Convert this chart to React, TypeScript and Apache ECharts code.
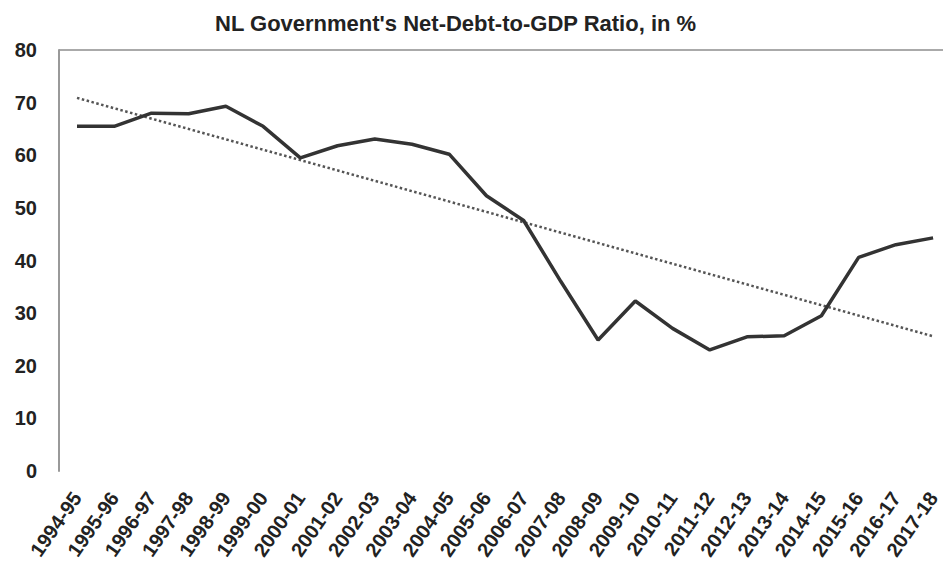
import React, { useEffect, useRef } from "react";
import * as echarts from "echarts";

const titleText = "NL Government's Net-Debt-to-GDP Ratio, in %";
const categories = [
  "1994-95", "1995-96", "1996-97", "1997-98", "1998-99", "1999-00",
  "2000-01", "2001-02", "2002-03", "2003-04", "2004-05", "2005-06",
  "2006-07", "2007-08", "2008-09", "2009-10", "2010-11", "2011-12",
  "2012-13", "2013-14", "2014-15", "2015-16", "2016-17", "2017-18",
];
const debtRatio = [
  65.5, 65.5, 68.0, 67.9, 69.3, 65.5, 59.5, 61.8, 63.1, 62.1, 60.2, 52.3,
  47.6, 36.0, 24.9, 32.3, 27.1, 23.0, 25.5, 25.7, 29.5, 40.6, 43.0, 44.3,
];
// Linear trend line: start and end values
const trendStart = 70.9;
const trendEnd = 25.6;
const yTicks = { min: 0, max: 80, interval: 10 };

export default function App() {
  const ref = useRef<HTMLDivElement>(null);
  useEffect(() => {
    if (!ref.current) return;
    const chart = echarts.init(ref.current, undefined, { renderer: "svg" });
    const trend: (number | null)[] = categories.map((_, i) =>
      i === 0 ? trendStart : i === categories.length - 1 ? trendEnd : null
    );
    const font = "'Liberation Sans', Arial, sans-serif";
    chart.setOption({
      animation: false,
      backgroundColor: "#ffffff",
      title: {
        text: titleText,
        left: 215,
        top: 12,
        padding: 0,
        textStyle: { fontFamily: font, fontSize: 22, fontWeight: "bold", color: "#222" },
      },
      graphic: [
        {
          type: "line",
          shape: { x1: 59, y1: 50, x2: 943, y2: 50 },
          style: { stroke: "#aaa", lineWidth: 2 },
        },
      ],
      grid: { left: 77, top: 50, bottom: 102, right: 9 },
      xAxis: {
        type: "category",
        data: categories,
        boundaryGap: false,
        axisLine: { show: false },
        axisTick: { show: false },
        axisLabel: {
          interval: 0,
          rotate: 55,
          margin: 23,
          fontFamily: font,
          fontSize: 20,
          fontWeight: "bold",
          color: "#222",
        },
      },
      yAxis: {
        type: "value",
        min: yTicks.min,
        max: yTicks.max,
        interval: yTicks.interval,
        offset: 18,
        axisLine: { show: true, lineStyle: { color: "#999", width: 2 } },
        axisTick: { show: false },
        splitLine: { show: false },
        axisLabel: {
          margin: 22,
          fontFamily: font,
          fontSize: 20,
          fontWeight: "bold",
          color: "#222",
        },
      },
      series: [
        {
          type: "line",
          data: trend,
          connectNulls: true,
          symbol: "none",
          lineStyle: { type: "dotted", width: 2.5, color: "#555" },
          z: 1,
        },
        {
          type: "line",
          data: debtRatio,
          symbol: "none",
          lineStyle: { width: 3.5, color: "#333" },
          z: 2,
        },
      ],
    });
    return () => chart.dispose();
  }, []);
  return (
    <div
      ref={ref}
      style={{ position: "fixed", left: 0, top: 0, width: 943, height: 573, background: "#fff" }}
    />
  );
}
